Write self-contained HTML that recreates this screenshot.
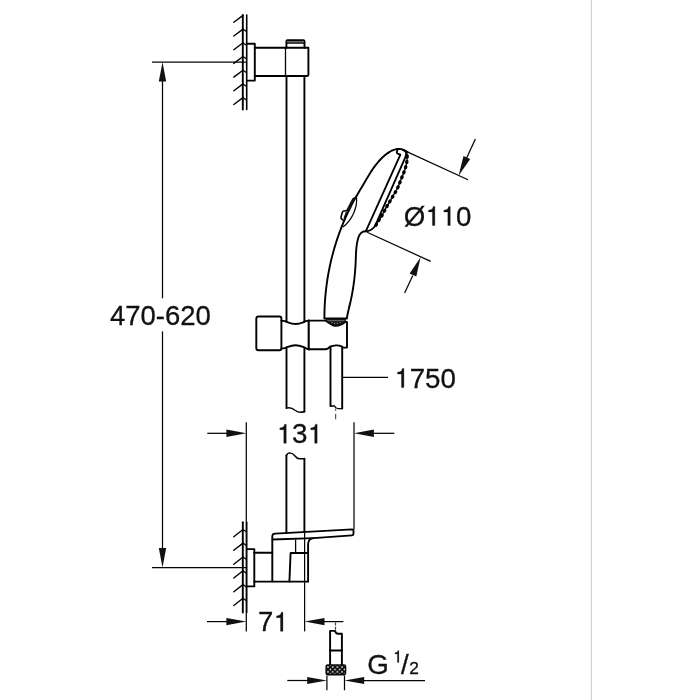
<!DOCTYPE html>
<html>
<head>
<meta charset="utf-8">
<title>Shower rail set - dimensional drawing</title>
<style>
  html, body { margin: 0; padding: 0; background: #ffffff; }
  body { width: 700px; height: 700px; overflow: hidden; position: relative; font-family: "Liberation Sans", sans-serif; }
  svg { position: absolute; left: 0; top: 0; display: block; will-change: transform; }
  .k { stroke: #000; stroke-width: 1.9; fill: none; stroke-linecap: round; stroke-linejoin: round; }
  .n { stroke: #050505; stroke-width: 1.25; fill: none; stroke-linecap: butt; }
  .m { stroke: #000; stroke-width: 1.4; fill: none; stroke-linecap: round; stroke-linejoin: round; }
  .a { fill: #111; stroke: none; }
  .g1 { fill: #111; stroke: #111; stroke-width: 11; }
  text { font-family: "Liberation Sans", sans-serif; fill: #111; stroke: #111; stroke-width: 0.3px; }
</style>
</head>
<body>
<svg width="700" height="700" viewBox="0 0 700 700">
  <defs>
    <pattern id="knurl" x="328" y="667.1" width="4.7" height="4.7" patternUnits="userSpaceOnUse">
      <rect width="4.7" height="4.7" fill="#0a0a0a"/>
      <circle cx="0" cy="0" r="0.85" fill="#f4f4f4"/><circle cx="4.7" cy="0" r="0.85" fill="#f4f4f4"/>
      <circle cx="0" cy="4.7" r="0.85" fill="#f4f4f4"/><circle cx="4.7" cy="4.7" r="0.85" fill="#f4f4f4"/>
      <circle cx="2.35" cy="2.35" r="0.85" fill="#f4f4f4"/>
    </pattern>
  </defs>

  <!-- light grey page edge line -->
  <line x1="591.4" y1="0" x2="591.4" y2="700" stroke="#d4d4d4" stroke-width="1.2"/>

  <!-- ===== upper wall ===== -->
  <g id="wall-top">
    <line class="k" x1="242.8" y1="15" x2="242.8" y2="109.5"/>
    <line class="k" x1="246.7" y1="15" x2="246.7" y2="109.5" style="stroke-width:1.6"/>
    <path class="m" d="M233.8 22.3 L243 15.4 M233.8 36 L243 29.1 M233.8 49.7 L243 42.8 M233.8 63.4 L243 56.5 M233.8 77.1 L243 70.2 M233.8 90.8 L243 83.9 M233.8 104.5 L243 97.6"/>
    <path class="n" d="M243 29.1 L246.7 31.7 M243 42.8 L246.7 45.4 M243 56.5 L246.7 59.1 M243 70.2 L246.7 72.8 M243 83.9 L246.7 86.5 M243 97.6 L246.7 100.2"/>
  </g>

  <!-- ===== upper bracket ===== -->
  <g id="bracket-top">
    <path class="k" d="M247 43.7 H254.8 V80.6 H247"/>
    <path class="k" d="M254.8 47.7 H308.4 V74.8 Q308.4 76 307.2 76 H254.8"/>
    <line class="n" x1="285.5" y1="47.7" x2="285.5" y2="76" style="stroke-width:1.3"/>
    <path class="k" d="M286.4 47.7 V41.2 Q286.4 40.1 287.6 40.1 H303.2 Q304.5 40.1 304.5 41.2 V47.7"/>
    <line class="k" x1="286.8" y1="43" x2="304.2" y2="43" style="stroke-width:1.5"/>
    <line x1="287.6" y1="41.5" x2="303.4" y2="41.5" stroke="#555" stroke-width="0.9"/>
  </g>

  <!-- ===== rail ===== -->
  <g id="rail">
    <line class="k" x1="286.5" y1="75.9" x2="286.5" y2="321.9"/>
    <line class="k" x1="304.4" y1="75.9" x2="304.4" y2="321.6"/>
    <line class="k" x1="286.5" y1="347.4" x2="286.5" y2="408"/>
    <line class="k" x1="304.4" y1="347.8" x2="304.4" y2="411.5"/>
    <path class="m" d="M286.5 408 Q291 406.8 295 410.2 Q299.5 413.6 304.5 411.5"/>
    <line class="k" x1="286.4" y1="455.4" x2="286.4" y2="533"/>
    <line class="k" x1="304.4" y1="458.6" x2="304.4" y2="532"/>
    <path class="m" d="M286.4 455.6 Q287.4 453 289.8 452.9 Q292.8 453 295 456 Q297 458.8 299.6 458.7 H304.4"/>
  </g>

  <!-- ===== slider / holder ===== -->
  <g id="slider">
    <path class="k" d="M258.6 316.5 H279.4 Q281.4 316.5 281.4 318.5 V348.3 Q281.4 350.3 279.4 350.3 H258.6 Q256.3 350.3 256.3 348 V318.8 Q256.3 316.5 258.6 316.5 Z"/>
    <path class="k" d="M281.4 320.6 Q285 320.6 288 322.3 Q295.5 325.6 303 322.3 Q306 320.6 308.7 320.6"/>
    <path class="k" d="M281.4 348.6 Q285 348.6 288 346.8 Q295.5 343.6 303 346.8 Q306 349 308.7 349.3"/>
    <line class="k" x1="308.7" y1="320.6" x2="308.7" y2="349.3" style="stroke-width:2.1"/>
    <path class="k" d="M308.7 320.6 H325.7 C329 322.6 332 325.8 336 325.8 C339.6 325.8 342 324.4 345.4 321.9 L347 321.9 V347.6 H343.4 Q342.6 347.4 342 346.7 Q339 345.2 336 345.4 Q332.6 345.6 330 346.7 Q327.6 349 325.7 349.3 H308.7"/>
  </g>

  <!-- ===== hose (upper section) ===== -->
  <g id="hose-top">
    <line class="k" x1="330.5" y1="347.5" x2="330.5" y2="406"/>
    <line class="k" x1="342.2" y1="347" x2="342.2" y2="408.5"/>
    <path class="m" d="M330.5 406 H334.5 Q335.8 408.6 338 408.6 H342.2"/>
    <path class="n" d="M335.6 408.6 V410.8 M335.6 414 V419.2" style="stroke:#555"/>
  </g>

  <!-- ===== hand shower ===== -->
  <g id="handshower">
    <!-- back of head and handle -->
    <path class="k" d="M407.60 152.30 L405.59 150.83 L403.56 149.80 L401.50 149.17 L399.42 148.92 L397.35 149.00 L395.28 149.39 L393.23 150.06 L391.21 150.97 L389.23 152.09 L387.29 153.39 L385.40 154.84 L383.58 156.41 L381.84 158.06 L380.18 159.76 L378.60 161.50 L377.10 163.27 L375.67 165.08 L374.30 166.91 L372.98 168.77 L371.71 170.65 L370.48 172.55 L369.29 174.47 L368.11 176.40 L366.96 178.35 L365.82 180.29 L364.68 182.25 L363.53 184.20 L362.37 186.15 L361.21 188.10 L360.04 190.05 L358.87 192.01 L357.71 193.97 L356.56 195.94 L355.43 197.92 L354.32 199.91 L353.23 201.91 L352.16 203.93 L351.11 205.95 L350.08 207.98 L349.07 210.03 L348.08 212.08 L347.11 214.14 L346.16 216.22 L345.23 218.30 L344.32 220.39 L343.43 222.49 L342.56 224.60 L341.71 226.72 L340.88 228.84 L340.07 230.98 L339.28 233.12 L338.51 235.27 L337.76 237.42 L337.03 239.59 L336.32 241.76 L335.64 243.93 L334.97 246.12 L334.32 248.31 L333.69 250.50 L333.08 252.71 L332.50 254.91 L331.93 257.13 L331.38 259.35 L330.86 261.57 L330.35 263.80 L329.87 266.03 L329.40 268.27 L328.96 270.51 L328.54 272.76 L328.13 275.01 L327.75 277.26 L327.39 279.52 L327.05 281.78 L326.73 284.04 L326.43 286.31 L326.15 288.58 L325.89 290.85 L325.65 293.12 L325.43 295.39 L325.24 297.67 L325.06 299.95 L324.91 302.23 L324.77 304.51 L324.66 306.79 L324.56 309.07 L324.49 311.35 L324.44 313.64 L324.41 315.92 L324.40 318.20"/>
    <!-- front of handle -->
    <path class="k" d="M365.90 231.20 L363.90 231.44 L362.17 232.17 L360.74 233.31 L359.63 234.76 L358.81 236.43 L358.19 238.23 L357.69 240.08 L357.27 241.93 L356.93 243.80 L356.65 245.66 L356.42 247.54 L356.25 249.41 L356.11 251.29 L356.01 253.17 L355.92 255.06 L355.85 256.94 L355.79 258.83 L355.72 260.71 L355.64 262.60 L355.55 264.48 L355.44 266.36 L355.31 268.24 L355.18 270.12 L355.02 272.00 L354.86 273.87 L354.67 275.75 L354.48 277.62 L354.27 279.49 L354.04 281.36 L353.80 283.22 L353.54 285.09 L353.26 286.95 L352.97 288.81 L352.67 290.67 L352.35 292.52 L352.01 294.37 L351.66 296.22 L351.29 298.07 L350.91 299.91 L350.50 301.75 L350.09 303.59 L349.65 305.42 L349.21 307.26 L348.76 309.09 L348.32 310.92 L347.89 312.76 L347.49 314.60 L347.12 316.44 L346.80 318.30"/>
    <path id="thick-front" class="a" d="M350.2 302.4 L349.0 303.0 L348.2 309.8 L348.9 310.4 Z"/>
    <!-- head rim -->
    <path class="k" style="stroke-width:1.85" d="M397.4 149.6 L396.8 152.6 Q397 153.6 398.2 153.8 L400.4 154.7 L365.9 231.2"/>
    <path class="k" style="stroke-width:1.85" d="M402.8 150 Q406.6 151.4 406.2 153.6 L405.4 157.1 L374.9 226.3 C372.4 229.6 369.4 231.2 365.9 231.3"/>
    <!-- nozzle face -->
    <path class="n" d="M407.2 153.5 L407.2 155.5 L407.2 157.6 L407.0 159.6 L406.8 161.6 L406.5 163.7 L406.0 165.7 L405.5 167.6 L404.9 169.6 L404.2 171.5 L403.5 173.4 L402.8 175.3 L402.0 177.2 L401.2 179.1 L400.4 181.0 L399.7 182.9 L398.9 184.8 L398.2 186.7 L397.3 188.5 L396.4 190.3 L395.3 192.1 L394.3 193.8 L393.2 195.6 L392.2 197.4 L391.2 199.1 L390.2 200.9 L389.1 202.7 L388.1 204.4 L387.0 206.1 L386.0 207.9 L385.0 209.7 L384.0 211.5 L383.1 213.3 L382.1 215.1 L381.0 216.8 L379.9 218.6 L378.8 220.3 L377.7 222.0 L376.7 223.8 L375.8 225.6"/>
    <g fill="#000" stroke="none">
      <ellipse cx="407.2" cy="156.5" rx="2.25" ry="1.75" transform="rotate(91 407.2 156.5)"/>
      <ellipse cx="406.8" cy="161.9" rx="2.25" ry="1.75" transform="rotate(99 406.8 161.9)"/>
      <ellipse cx="405.6" cy="167.2" rx="2.25" ry="1.75" transform="rotate(106 405.6 167.2)"/>
      <ellipse cx="403.9" cy="172.3" rx="2.25" ry="1.75" transform="rotate(110 403.9 172.3)"/>
      <ellipse cx="401.9" cy="177.3" rx="2.25" ry="1.75" transform="rotate(113 401.9 177.3)"/>
      <ellipse cx="399.9" cy="182.3" rx="2.25" ry="1.75" transform="rotate(111 399.9 182.3)"/>
      <ellipse cx="397.9" cy="187.3" rx="2.25" ry="1.75" transform="rotate(114 397.9 187.3)"/>
      <ellipse cx="395.4" cy="192.1" rx="2.25" ry="1.75" transform="rotate(121 395.4 192.1)"/>
      <ellipse cx="392.6" cy="196.7" rx="2.25" ry="1.75" transform="rotate(120 392.6 196.7)"/>
      <ellipse cx="389.9" cy="201.4" rx="2.25" ry="1.75" transform="rotate(120 389.9 201.4)"/>
      <ellipse cx="387.1" cy="206.0" rx="2.25" ry="1.75" transform="rotate(121 387.1 206.0)"/>
      <ellipse cx="384.5" cy="210.7" rx="2.25" ry="1.75" transform="rotate(118 384.5 210.7)"/>
      <ellipse cx="381.9" cy="215.5" rx="2.25" ry="1.75" transform="rotate(121 381.9 215.5)"/>
      <ellipse cx="379.0" cy="220.0" rx="2.25" ry="1.75" transform="rotate(123 379.0 220.0)"/>
      <ellipse cx="376.2" cy="224.7" rx="2.25" ry="1.75" transform="rotate(117 376.2 224.7)"/>
    </g>
    <!-- button -->
    <path class="a" d="M356.6 196 L352.4 198.2 L346 210.6 L348.6 211.6 Z"/>
    <path class="k" style="stroke-width:1.6" d="M346.6 210.8 L343.8 211 Q342.6 211.2 342.2 212.6 L341 217.2 Q340.8 218.6 341.8 219.2 L343.2 220.2"/>
    <path class="n" d="M356.5 197.2 C357.4 206 353.4 219 342.9 227"/>
    <path class="n" d="M346.6 211.6 L344 218.6"/>
    <!-- bottom of handle -->
    <line class="k" x1="324.6" y1="318.4" x2="346.9" y2="318.4"/>
    <path class="a" d="M325.2 318.6 H346.4 L345.6 321.8 C342 324.4 339.6 325.8 336 325.8 C332 325.8 329 322.6 325.7 320.6 Z"/>
    <line x1="327.5" y1="320.7" x2="344.5" y2="320.7" stroke="#9a9a9a" stroke-width="0.7"/>
    <path d="M331.5 322.6 h1 M334 323.3 h1.2 M336.8 323.3 h1.2 M339.6 322.6 h1" stroke="#cfcfcf" stroke-width="0.8" fill="none"/>
  </g>

  <!-- ===== lower wall ===== -->
  <g id="wall-bottom">
    <line class="k" x1="242.8" y1="522.2" x2="242.8" y2="612.5"/>
    <line class="k" x1="246.7" y1="522.2" x2="246.7" y2="612.5" style="stroke-width:1.6"/>
    <path class="m" d="M233.8 536.7 L243 529.5 M233.8 550.3 L243 543.1 M233.8 564.2 L243 557.0 M233.8 578.0 L243 570.8 M233.8 591.8 L243 584.6 M233.8 605.5 L243 598.3"/>
    <path class="n" d="M243 529.5 L246.7 532.1 M243 543.1 L246.7 545.7 M243 557.0 L246.7 559.6 M243 570.8 L246.7 573.4 M243 584.6 L246.7 587.2 M243 598.3 L246.7 600.9"/>
  </g>

  <!-- ===== lower bracket with shelf ===== -->
  <g id="bracket-bottom">
    <path class="k" d="M247 549.1 H254.3 V586.4 H247"/>
    <path class="k" d="M254.3 552.8 H272.3 M254.3 581.6 H308.2"/>
    <path class="k" d="M272.3 581.6 V536.4 Q272.3 533.8 275 533.6 L352.2 529.4 Q353.5 529.4 353.5 530.8 V533.8 Q353.5 535.3 352 535.4 L313.5 538.1 Q308.3 538.6 308.1 544 L308.1 581.6"/>
    <path class="k" d="M272.6 539.5 L313.5 538.1"/>
    <path class="k" d="M289.4 581.6 L290.6 553 H308"/>
    <line class="n" x1="295.6" y1="539.4" x2="295.6" y2="553" style="stroke-width:1.3"/>
  </g>

  <!-- ===== hose end with nut ===== -->
  <g id="hose-end">
    <line class="n" x1="335.5" y1="622.4" x2="335.5" y2="630" stroke-dasharray="3 1.4" style="stroke:#444"/>
    <path class="k" d="M330.1 665.1 V630.9 H335 Q336 633.8 338 633.8 H341.9 V665.1"/>
    <line class="k" x1="330.1" y1="650.5" x2="341.9" y2="650.5"/>
    <rect x="326.1" y="664.9" width="19.5" height="9.8" rx="1.6" ry="1.6" fill="url(#knurl)" stroke="#0a0a0a" stroke-width="1.4"/>
    <line class="n" x1="326.9" y1="675.4" x2="326.9" y2="690.3"/>
    <line class="n" x1="344.5" y1="675.4" x2="344.5" y2="690.3"/>
  </g>

  <!-- ===== dimension 470-620 ===== -->
  <g id="dim-height">
    <line class="n" x1="152" y1="62" x2="246" y2="62"/>
    <line class="n" x1="152" y1="567.5" x2="246" y2="567.5"/>
    <line class="n" x1="162.5" y1="80" x2="162.5" y2="298.3"/>
    <line class="n" x1="162.5" y1="331.4" x2="162.5" y2="549"/>
    <path class="a" d="M162.5 62 L166.2 81.6 H158.8 Z"/>
    <path class="a" d="M162.5 567.5 L166.2 548 H158.8 Z"/>
    <g class="t">
      <text transform="translate(110.00 324.70) scale(0.9892 1)" font-size="27.80">4</text>
      <text transform="translate(125.29 324.70) scale(0.9892 1)" font-size="27.80">7</text>
      <text transform="translate(140.58 324.70) scale(0.9892 1)" font-size="27.80">0</text>
      <text transform="translate(155.87 324.70) scale(0.9892 1)" font-size="27.80">-</text>
      <text transform="translate(165.03 324.70) scale(0.9892 1)" font-size="27.80">6</text>
      <text transform="translate(180.32 324.70) scale(0.9892 1)" font-size="27.80">2</text>
      <text transform="translate(195.61 324.70) scale(0.9892 1)" font-size="27.80">0</text>
    </g>
  </g>

  <!-- ===== dimension 131 ===== -->
  <g id="dim-131">
    <line class="n" x1="246.3" y1="422.3" x2="246.3" y2="631.4"/>
    <line class="n" x1="354" y1="422.3" x2="354" y2="529.5"/>
    <line class="n" x1="207.3" y1="433.3" x2="228" y2="433.3"/>
    <line class="n" x1="372" y1="433.3" x2="394.3" y2="433.3"/>
    <path class="a" d="M246.3 433.3 L226.4 429.6 V437 Z"/>
    <path class="a" d="M354 433.3 L373.9 429.6 V437 Z"/>
    <g class="t">
      <path class="g1" transform="translate(276.60 443.30) scale(0.02779 -0.02691)" d="M116 505 H259 V0 H347 V709 H289 C260 604 240 588 116 569 Z"/>
      <text transform="translate(292.05 443.30) scale(0.9996 1)" font-size="27.80">3</text>
      <path class="g1" transform="translate(307.50 443.30) scale(0.02779 -0.02691)" d="M116 505 H259 V0 H347 V709 H289 C260 604 240 588 116 569 Z"/>
    </g>
  </g>

  <!-- ===== dimension 71 ===== -->
  <g id="dim-71">
    <line class="n" x1="304.6" y1="532" x2="304.6" y2="631.4"/>
    <line class="n" x1="207" y1="621.6" x2="228" y2="621.6"/>
    <line class="n" x1="322" y1="621.6" x2="343.4" y2="621.6"/>
    <path class="a" d="M246.3 621.6 L226.4 617.9 V625.3 Z"/>
    <path class="a" d="M304.6 621.6 L324.5 617.9 V625.3 Z"/>
    <g class="t">
      <text transform="translate(258.10 631.30) scale(0.9892 1)" font-size="27.80">7</text>
      <path class="g1" transform="translate(273.39 631.30) scale(0.02750 -0.02691)" d="M116 505 H259 V0 H347 V709 H289 C260 604 240 588 116 569 Z"/>
    </g>
  </g>

  <!-- ===== dimension Ø110 ===== -->
  <g id="dim-dia">
    <line class="n" x1="405.1" y1="150.9" x2="468" y2="179.7"/>
    <line class="n" x1="367.1" y1="232.2" x2="430.7" y2="261.4"/>
    <line class="n" x1="475.4" y1="139" x2="466.4" y2="158.6"/>
    <line class="n" x1="404.6" y1="293.1" x2="412.8" y2="275.4"/>
    <path class="a" d="M458.6 175.7 L463.5 156 L470.2 159 Z"/>
    <path class="a" d="M420.6 257.2 L416.3 276.6 L409.6 273.4 Z"/>
    <g class="t">
      <text transform="translate(403.70 225.50) scale(0.9964 1)" font-size="27.80">Ø</text>
      <path class="g1" transform="translate(425.25 225.50) scale(0.02770 -0.02691)" d="M116 505 H259 V0 H347 V709 H289 C260 604 240 588 116 569 Z"/>
      <path class="g1" transform="translate(440.65 225.50) scale(0.02770 -0.02691)" d="M116 505 H259 V0 H347 V709 H289 C260 604 240 588 116 569 Z"/>
      <text transform="translate(456.05 225.50) scale(0.9964 1)" font-size="27.80">0</text>
    </g>
  </g>

  <!-- ===== hose length 1750 ===== -->
  <g id="dim-hose">
    <line class="n" x1="342.2" y1="377.4" x2="388" y2="377.4"/>
    <g class="t">
      <path class="g1" transform="translate(394.30 387.60) scale(0.02770 -0.02691)" d="M116 505 H259 V0 H347 V709 H289 C260 604 240 588 116 569 Z"/>
      <text transform="translate(409.70 387.60) scale(0.9964 1)" font-size="27.80">7</text>
      <text transform="translate(425.10 387.60) scale(0.9964 1)" font-size="27.80">5</text>
      <text transform="translate(440.50 387.60) scale(0.9964 1)" font-size="27.80">0</text>
    </g>
  </g>

  <!-- ===== thread G 1/2 ===== -->
  <g id="dim-thread">
    <line class="n" x1="287.3" y1="680.5" x2="309" y2="680.5"/>
    <line class="n" x1="362" y1="680.5" x2="425" y2="680.5"/>
    <path class="a" d="M326.9 680.5 L307.2 676.9 V684.1 Z"/>
    <path class="a" d="M344.5 680.5 L364.2 676.9 V684.1 Z"/>
    <g class="t">
      <text transform="translate(367.30 673.50) scale(0.9964 1)" font-size="27.80">G</text>
      <path class="g1" transform="translate(392.90 662.40) scale(0.01730 -0.01684)" d="M116 505 H259 V0 H347 V709 H289 C260 604 240 588 116 569 Z"/>
      <text transform="translate(401.10 673.80) scale(0.9964 1)" font-size="27.80">/</text>
      <text transform="translate(409.30 673.70) scale(0.9943 1)" font-size="17.40">2</text>
    </g>
  </g>
</svg>
</body>
</html>
